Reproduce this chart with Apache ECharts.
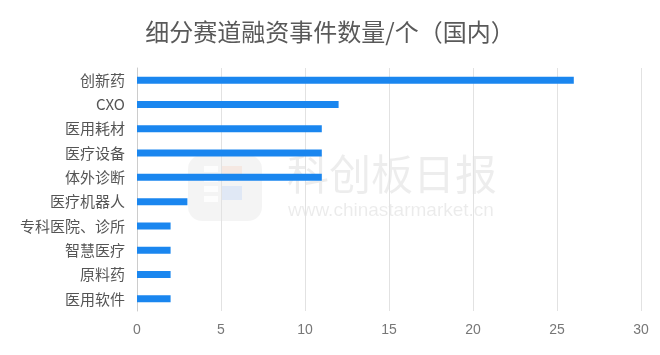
<!DOCTYPE html>
<html>
<head>
<meta charset="utf-8">
<script src="https://cdn.jsdelivr.net/npm/echarts@6/dist/echarts.min.js"></script>
<style>
  html, body { margin: 0; padding: 0; background: #fff; }
  #chart { width: 660px; height: 355px; }
</style>
</head>
<body>
<div id="chart"></div>
<script>
// categories, top to bottom
var categories = ['创新药', 'CXO', '医用耗材', '医疗设备', '体外诊断', '医疗机器人', '专科医院、诊所', '智慧医疗', '原料药', '医用软件'];
var counts = [26, 12, 11, 11, 11, 3, 2, 2, 2, 2];
var xTicks = [0, 5, 10, 15, 20, 25, 30];

var chart = echarts.init(document.getElementById('chart'));

var option = {
  backgroundColor: '#fff',
  animation: false,
  title: {
    text: '细分赛道融资事件数量/个（国内）',
    left: 'center',
    top: 15,
    textStyle: {
      fontFamily: 'Noto Sans CJK SC',
      fontSize: 24,
      fontWeight: 'normal',
      color: '#595959'
    }
  },
  // faint watermark (logo + site name)
  graphic: [
    {
      type: 'rect',
      left: 188,
      top: 155,
      z: -1,
      shape: { width: 74, height: 66, r: 14 },
      style: { fill: 'rgba(0,0,0,0.045)' }
    },
    {
      type: 'group',
      left: 204,
      top: 166,
      z: -1,
      children: [
        { type: 'rect', shape: { x: 0, y: 0, width: 14, height: 6 }, style: { fill: 'rgba(255,255,255,0.8)' } },
        { type: 'rect', shape: { x: 0, y: 10, width: 14, height: 6 }, style: { fill: 'rgba(255,255,255,0.8)' } },
        { type: 'rect', shape: { x: 0, y: 20, width: 14, height: 6 }, style: { fill: 'rgba(255,255,255,0.8)' } },
        { type: 'rect', shape: { x: 0, y: 30, width: 14, height: 6 }, style: { fill: 'rgba(255,255,255,0.8)' } },
        { type: 'rect', shape: { x: 18, y: 0, width: 20, height: 14 }, style: { fill: 'rgba(255,150,100,0.12)' } },
        { type: 'rect', shape: { x: 18, y: 20, width: 20, height: 14 }, style: { fill: 'rgba(80,150,255,0.12)' } }
      ]
    },
    {
      type: 'text',
      left: 287,
      top: 153,
      z: -1,
      style: { text: '科创板日报', font: '42px "Noto Sans CJK SC"', fill: 'rgba(0,0,0,0.07)' }
    },
    {
      type: 'text',
      left: 288,
      top: 201,
      z: -1,
      style: { text: 'www.chinastarmarket.cn', font: '19px "Liberation Sans"', fill: 'rgba(0,0,0,0.08)' }
    }
  ],
  grid: { left: 137, right: 19, top: 68, bottom: 44 },
  xAxis: {
    type: 'value',
    min: xTicks[0],
    max: xTicks[xTicks.length - 1],
    interval: 5,
    axisLine: { show: false },
    axisTick: { show: false },
    axisLabel: { color: '#777', fontSize: 14, margin: 12, fontFamily: 'Liberation Sans' },
    splitLine: { show: true, lineStyle: { color: '#e2e2e2' } }
  },
  yAxis: {
    type: 'category',
    data: categories,
    inverse: true,
    axisLine: { show: true, lineStyle: { color: '#ccc' } },
    axisTick: { show: false },
    axisLabel: { color: '#555', fontSize: 15, margin: 12, fontFamily: 'Noto Sans CJK SC' }
  },
  series: [{
    type: 'bar',
    data: counts,
    barWidth: 7,
    itemStyle: { color: '#1a86ef' }
  }]
};

chart.setOption(option);
</script>
</body>
</html>
